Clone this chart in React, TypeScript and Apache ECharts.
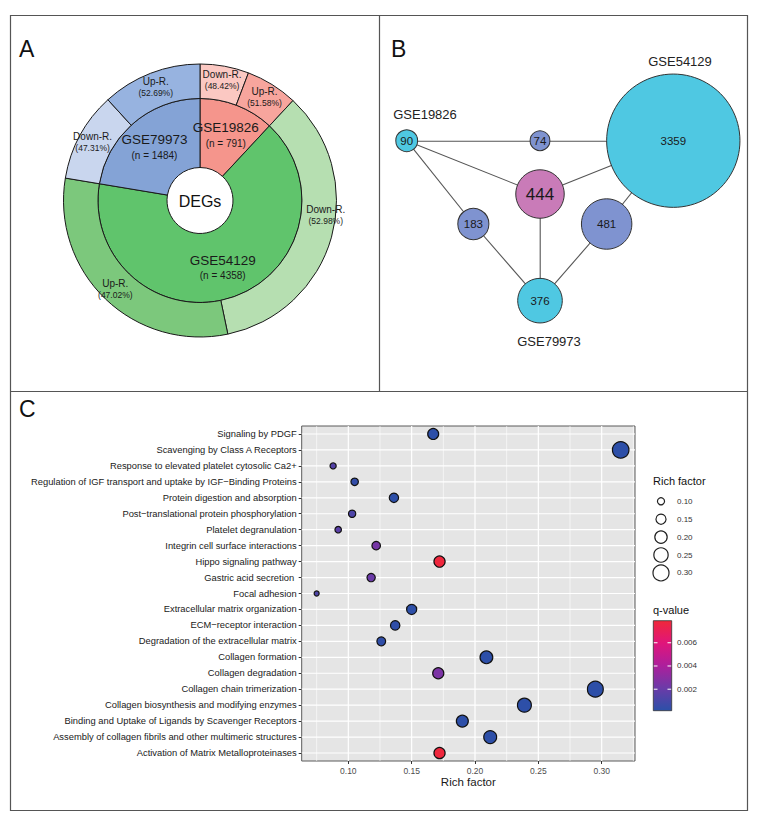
import React, { useEffect, useRef } from "react";
import * as echarts from "echarts";

const FONT = "'Liberation Sans', Arial, Helvetica, sans-serif";

// ---------------- Panel A data ----------------
const degDatasets = ["GSE19826", "GSE54129", "GSE79973"];
const degCounts = [791, 4358, 1484];
const downRegPct = [48.42, 52.98, 47.31];
const upRegPct = [51.58, 47.02, 52.69];

// ---------------- Panel B data ----------------
const overlapValues = [90, 74, 3359, 444, 183, 481, 376];
const overlapKinds = ["single", "pair", "single", "common", "pair", "pair", "single"];
const overlapLinks = [
  [0, 1], [1, 2], [0, 3], [3, 2], [0, 4], [4, 6], [3, 6], [6, 5], [5, 2],
];
const overlapDatasetNames = ["GSE19826", "GSE54129", "GSE79973"];

// ---------------- Panel C data ----------------
const pathways = [
  "Signaling by PDGF",
  "Scavenging by Class A Receptors",
  "Response to elevated platelet cytosolic Ca2+",
  "Regulation of IGF transport and uptake by IGF\u2212Binding Proteins",
  "Protein digestion and absorption",
  "Post\u2212translational protein phosphorylation",
  "Platelet degranulation",
  "Integrin cell surface interactions",
  "Hippo signaling pathway",
  "Gastric acid secretion ",
  "Focal adhesion",
  "Extracellular matrix organization",
  "ECM\u2212receptor interaction",
  "Degradation of the extracellular matrix",
  "Collagen formation",
  "Collagen degradation",
  "Collagen chain trimerization",
  "Collagen biosynthesis and modifying enzymes",
  "Binding and Uptake of Ligands by Scavenger Receptors",
  "Assembly of collagen fibrils and other multimeric structures",
  "Activation of Matrix Metalloproteinases",
];
const richFactor = [
  0.167, 0.315, 0.088, 0.105, 0.136, 0.103, 0.092, 0.122, 0.172, 0.118, 0.075,
  0.15, 0.137, 0.126, 0.209, 0.171, 0.295, 0.239, 0.19, 0.212, 0.172,
];
const qValue = [
  0.0002, 0.0002, 0.0014, 0.0004, 0.0002, 0.0012, 0.0016, 0.0024, 0.0078, 0.0021, 0.0012,
  0.0002, 0.0003, 0.0003, 0.0002, 0.0026, 0.0002, 0.0002, 0.0002, 0.0002, 0.0078,
];
const richTicks = [0.1, 0.15, 0.2, 0.25, 0.3];
const richMinorGrid = [0.075, 0.125, 0.175, 0.225, 0.275, 0.325];
const sizeLegendValues = [0.1, 0.15, 0.2, 0.25, 0.3];
const qTicks = [0.002, 0.004, 0.006];
const qLimits = [0.00015, 0.0079];
const richLimits = [0.0632, 0.3263];

// ---------------- styles / layout ----------------
const innerColors = ["#f5958c", "#60c46c", "#84a3d6"];
const outerDownColors = ["#fbc8c2", "#b6dfb1", "#c9d6ee"];
const outerUpColors = ["#f7a59d", "#7cc87c", "#97b3e0"];
const outerLabelOffsets = [null, null, [8, -18], null, null, null];
const kindColors: Record<string, string> = { single: "#4fc8e2", pair: "#7f93d0", common: "#c97bb8" };
const netLayout = [[0, 0], [1, 0], [2, 0], [1, 0.4], [0.5, 0.625], [1.5, 0.625], [1, 1.2]];
const netBox = { left: 406.7, top: 140.7, unit: 133.3 };
const netLabelPos = [[425, 114], [680, 61], [549, 341]];
const qColors = ["#2b50a8", "#6b3ba8", "#ad1f9c", "#e0157b", "#f0283a"];
const plot = { left: 301.7, top: 426, width: 333.3, height: 335 };

const rfMin = Math.min(...richFactor);
const rfMax = Math.max(...richFactor);
const sizeOf = (v: number) => Math.sqrt(25 + (272 - 25) * (v - rfMin) / (rfMax - rfMin));

export default function App() {
  const ref = useRef<HTMLDivElement>(null);
  useEffect(() => {
    document.body.style.margin = "0";
    const chart = echarts.init(ref.current!, null, { renderer: "svg" });

    const innerData = degDatasets.map((d, i) => ({
      name: d,
      value: degCounts[i],
      itemStyle: { color: innerColors[i] },
    }));
    const outerData: any[] = [];
    degDatasets.forEach((d, i) => {
      outerData.push({
        name: d + " Down-R.", kind: "Down-R.", pct: downRegPct[i],
        value: (degCounts[i] * downRegPct[i]) / 100,
        itemStyle: { color: outerDownColors[i] },
      });
      outerData.push({
        name: d + " Up-R.", kind: "Up-R.", pct: upRegPct[i],
        value: (degCounts[i] * upRegPct[i]) / 100,
        itemStyle: { color: outerUpColors[i] },
      });
    });
    outerData.forEach((o, i) => {
      if (outerLabelOffsets[i]) o.label = { offset: outerLabelOffsets[i] };
    });

    const nodes = overlapValues.map((v, i) => ({
      name: String(v),
      value: v,
      x: netLayout[i][0] * netBox.unit,
      y: netLayout[i][1] * netBox.unit,
      symbolSize: 2.3 * Math.sqrt(v),
      itemStyle: { color: kindColors[overlapKinds[i]], borderColor: "#333", borderWidth: 1 },
      label: { fontSize: overlapKinds[i] === "common" ? 17 : 11.5 },
    }));
    const links = overlapLinks.map(([s, t]) => ({ source: s, target: t }));

    const scatterData = pathways.map((p, i) => [richFactor[i], p, qValue[i]]);
    const vGrid = [
      ...richTicks.map((v) => [v, 0, 1.2]),
      ...richMinorGrid.map((v) => [v, 0, 0.6]),
    ];
    const hGrid = pathways.map((p, i) => [0.2, i, 1.2]);

    const qToY = (q: number) =>
      710.7 - ((q - qLimits[0]) / (qLimits[1] - qLimits[0])) * 90;

    const graphics: any[] = [
      { type: "rect", shape: { x: 10.5, y: 15.5, width: 737, height: 795 }, style: { fill: "none", stroke: "#555", lineWidth: 1.2 }, silent: true },
      { type: "line", shape: { x1: 379.5, y1: 15.5, x2: 379.5, y2: 391.5 }, style: { stroke: "#555", lineWidth: 1.2 }, silent: true },
      { type: "line", shape: { x1: 10.5, y1: 391.5, x2: 747.5, y2: 391.5 }, style: { stroke: "#555", lineWidth: 1.2 }, silent: true },
      { type: "text", x: 19, y: 49, style: { text: "A", fontSize: 23, fontFamily: FONT, fill: "#111", textVerticalAlign: "middle" } },
      { type: "text", x: 391, y: 49, style: { text: "B", fontSize: 23, fontFamily: FONT, fill: "#111", textVerticalAlign: "middle" } },
      { type: "text", x: 19, y: 409, style: { text: "C", fontSize: 23, fontFamily: FONT, fill: "#111", textVerticalAlign: "middle" } },
      { type: "text", x: 200, y: 201, z: 10, style: { text: "DEGs", fontSize: 16, fontFamily: FONT, fill: "#111", textAlign: "center", textVerticalAlign: "middle" } },
      { type: "text", x: 653, y: 481, style: { text: "Rich factor", fontSize: 11, fontFamily: FONT, fill: "#111", textVerticalAlign: "middle" } },
      { type: "text", x: 653, y: 610, style: { text: "q-value", fontSize: 11, fontFamily: FONT, fill: "#111", textVerticalAlign: "middle" } },
      {
        type: "rect",
        shape: { x: 653.3, y: 620.7, width: 18.4, height: 90 },
        style: {
          fill: {
            type: "linear", x: 0, y: 0, x2: 0, y2: 1,
            colorStops: qColors.slice().reverse().map((c, i) => ({ offset: i / (qColors.length - 1), color: c })),
          },
          stroke: "#333", lineWidth: 0.8,
        },
      },
    ];
    overlapDatasetNames.forEach((n, i) => {
      graphics.push({ type: "text", x: netLabelPos[i][0], y: netLabelPos[i][1], style: { text: n, fontSize: 13, fontFamily: FONT, fill: "#222", textAlign: "center", textVerticalAlign: "middle" } });
    });
    sizeLegendValues.forEach((v, i) => {
      const y = 501.3 + i * 17.9;
      graphics.push({ type: "circle", shape: { cx: 661, cy: y, r: sizeOf(v) / 2 }, style: { fill: "none", stroke: "#222", lineWidth: 1.2 } });
      graphics.push({ type: "text", x: 677, y, style: { text: v.toFixed(2), fontSize: 8, fontFamily: FONT, fill: "#333", textVerticalAlign: "middle" } });
    });
    qTicks.forEach((q) => {
      const y = qToY(q);
      graphics.push({ type: "line", shape: { x1: 653.8, y1: y, x2: 657.5, y2: y }, style: { stroke: "#fff", lineWidth: 1 } });
      graphics.push({ type: "line", shape: { x1: 667.5, y1: y, x2: 671.2, y2: y }, style: { stroke: "#fff", lineWidth: 1 } });
      graphics.push({ type: "text", x: 677, y, style: { text: q.toFixed(3), fontSize: 8, fontFamily: FONT, fill: "#333", textVerticalAlign: "middle" } });
    });

    chart.setOption({
      animation: false,
      textStyle: { fontFamily: FONT },
      grid: {
        left: plot.left, top: plot.top, width: plot.width, height: plot.height,
        show: true, backgroundColor: "#e5e5e5", borderColor: "#5a5a5a", borderWidth: 1,
      },
      xAxis: {
        type: "value", min: richLimits[0], max: richLimits[1],
        name: "Rich factor", nameLocation: "middle", nameGap: 15,
        nameTextStyle: { fontSize: 11.5, color: "#1a1a1a", fontFamily: FONT },
        axisLine: { show: false },
        axisTick: { show: true, customValues: richTicks, length: 3, lineStyle: { color: "#333" } },
        axisLabel: { customValues: richTicks, formatter: (v: number) => v.toFixed(2), fontSize: 8.5, color: "#4d4d4d", margin: 5 },
        splitLine: { show: false },
      },
      yAxis: {
        type: "category", data: pathways, inverse: true,
        axisLine: { show: false },
        axisTick: { show: true, alignWithLabel: true, length: 3, lineStyle: { color: "#333" } },
        axisLabel: { fontSize: 9.35, color: "#1a1a1a", margin: 5, interval: 0 },
        splitLine: { show: false },
      },
      visualMap: {
        type: "continuous", show: false, seriesIndex: 5, dimension: 2,
        min: qLimits[0], max: qLimits[1], inRange: { color: qColors },
      },
      graphic: graphics,
      series: [
        {
          type: "pie", center: [200, 200.5], radius: [33, 102], startAngle: 90, clockwise: true,
          silent: true, data: innerData,
          itemStyle: { borderColor: "#1a1a1a", borderWidth: 1 },
          label: {
            position: "inside", color: "#1a1a1a",
            formatter: (p: any) => `{t|${p.name}}\n{n|(n = ${p.value})}`,
            rich: { t: { fontSize: 13.5, lineHeight: 17, color: "#1a1a1a" }, n: { fontSize: 10, lineHeight: 14, color: "#1a1a1a" } },
          },
          labelLine: { show: false },
        },
        {
          type: "pie", center: [200, 200.5], radius: [102, 136.5], startAngle: 90, clockwise: true,
          silent: true, data: outerData,
          itemStyle: { borderColor: "#1a1a1a", borderWidth: 1 },
          label: {
            position: "inside", color: "#1a1a1a",
            formatter: (p: any) => `{t|${p.data.kind}}\n{p|(${p.data.pct.toFixed(2)}%)}`,
            rich: { t: { fontSize: 10, lineHeight: 12, color: "#1a1a1a" }, p: { fontSize: 8.5, lineHeight: 11, color: "#1a1a1a" } },
          },
          labelLine: { show: false },
        },
        {
          type: "graph", layout: "none", silent: true,
          left: netBox.left, top: netBox.top, width: netBox.unit * 2, height: netBox.unit * 1.2,
          data: nodes, links,
          lineStyle: { color: "#555", width: 1.1, opacity: 1, curveness: 0 },
          label: { show: true, position: "inside", color: "#1a1a1a", formatter: "{c}" },
          emphasis: { disabled: true },
        },
        {
          type: "custom", silent: true, z: 1, data: vGrid,
          renderItem: (params: any, api: any) => {
            const p = api.coord([api.value(0), 0]);
            const cs = params.coordSys;
            return { type: "line", shape: { x1: p[0], y1: cs.y, x2: p[0], y2: cs.y + cs.height }, style: { stroke: "#ffffff", lineWidth: api.value(2) } };
          },
        },
        {
          type: "custom", silent: true, z: 1, data: hGrid,
          renderItem: (params: any, api: any) => {
            const p = api.coord([api.value(0), api.value(1)]);
            const cs = params.coordSys;
            return { type: "line", shape: { x1: cs.x, y1: p[1], x2: cs.x + cs.width, y2: p[1] }, style: { stroke: "#ffffff", lineWidth: api.value(2) } };
          },
        },
        {
          type: "scatter", z: 3, data: scatterData,
          symbolSize: (val: any) => sizeOf(val[0]),
          itemStyle: { borderColor: "#111", borderWidth: 1.2, opacity: 1 },
        },
      ],
    });
    return () => chart.dispose();
  }, []);
  return <div ref={ref} style={{ width: 759, height: 826 }} />;
}
